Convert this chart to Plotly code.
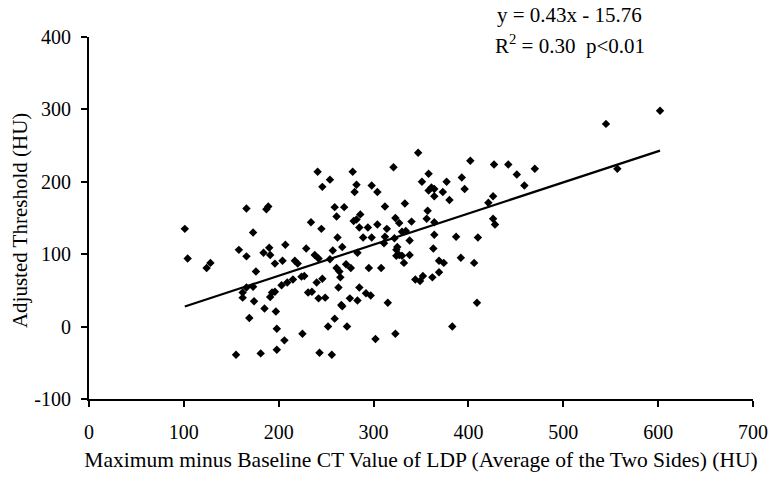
import plotly.graph_objects as go

# Datos (x: max - basal CT LDP, y: umbral ajustado), en HU
x_vals = [101, 104, 128, 124, 155, 158, 162, 166, 162, 166, 166, 169, 173, 173, 174, 176,
          181, 184, 185, 187, 189, 190, 191, 191, 193, 196, 196, 197, 198, 198,
          204, 206, 207, 203, 209, 215, 217, 220, 224, 227, 225, 229, 231, 235, 234,
          238, 242, 241, 240, 242, 243, 245, 246, 246, 249,
          252, 254, 254, 256, 257, 259, 259, 261, 261, 262, 263, 264, 265, 266, 267,
          267, 269, 271, 272, 275, 276, 278, 279, 282, 280, 282, 283, 283, 285, 285,
          286, 289, 292, 294, 295, 297, 298, 298,
          302, 304, 304, 308, 312, 311, 312, 314, 315, 321, 323, 323, 324, 324, 327,
          330, 327, 330, 332, 333, 338, 338, 340, 344, 347, 349, 351, 352, 334, 322, 325,
          357, 356, 358, 358, 364, 361, 364, 364, 364, 363, 362, 369, 374, 369, 373,
          377, 380, 383, 387, 393, 396, 392,
          402, 406, 409, 410, 421, 426, 426, 428, 427, 442, 451, 459, 470, 545, 557, 602]
y_vals = [135, 94, 88, 81, -39, 106, 47, 54, 40, 163, 97, 12, 55, 130, 35, 76,
          -37, 102, 25, 162, 166, 109, 99, 41, 47, 87, 48, 21, -3, -32,
          91, -19, 113, 57, 61, 65, 91, 87, 69, 70, -10, 108, 47, 48, 144,
          99, 94, 214, 61, 39, -36, 135, 193, 66, 40,
          0, 93, 203, -39, 105, 11, 165, 152, 81, 123, 54, 76, 68, 30, 28,
          110, 165, 86, 0, 39, 81, 214, 146, 148, 186, 196, 102, 36, 54, 137,
          155, 123, 46, 137, 81, 43, 195, 123,
          -17, 186, 141, 81, 166, 115, 124, 135, 33, 220, -10, 150, 106, 98, 99,
          98, 143, 131, 88, 170, 99, 119, 145, 65, 240, 63, 200, 70, 132, 122, 110,
          160, 149, 188, 211, 190, 192, 180, 144, 127, 108, 68, 91, 88, 75, 186,
          200, 175, 0, 124, 206, 190, 95,
          229, 88, 33, 123, 171, 180, 149, 141, 224, 224, 210, 195, 218, 280, 218, 298]

# Recta de regresion indicada en el grafico
pendiente = 0.43
intercepto = -15.76
x_linea = [min(x_vals), max(x_vals)]
y_linea = [pendiente * v + intercepto for v in x_linea]

x_ticks = [0, 100, 200, 300, 400, 500, 600, 700]
y_ticks = [-100, 0, 100, 200, 300, 400]
y_ticktext = ['-100', '0', '100', '200', '300', '400']

fuente = 'Liberation Serif, Times New Roman, serif'

fig = go.Figure()

# Puntos
fig.add_trace(go.Scatter(
    x=x_vals,
    y=y_vals,
    mode='markers',
    marker=dict(symbol='diamond', size=6.5, color='black'),
    showlegend=False
))

# Recta de ajuste
fig.add_trace(go.Scatter(
    x=x_linea,
    y=y_linea,
    mode='lines',
    line=dict(color='black', width=2.2),
    showlegend=False
))

fig.update_layout(
    width=773,
    height=477,
    margin=dict(l=89, r=20, t=37, b=78),
    plot_bgcolor='white',
    paper_bgcolor='white',
    font=dict(family=fuente, color='black', size=20),
    annotations=[
        dict(text='y = 0.43x - 15.76', xref='paper', yref='paper',
             x=0.724, y=1.061, showarrow=False, xanchor='center', yanchor='middle',
             font=dict(family=fuente, size=21, color='black')),
        dict(text='R<sup>2</sup> = 0.30  p&lt;0.01', xref='paper', yref='paper',
             x=0.724, y=0.978, showarrow=False, xanchor='center', yanchor='middle',
             font=dict(family=fuente, size=21, color='black')),
        # Titulo del eje Y
        dict(text='Adjusted Threshold (HU)', xref='paper', yref='paper',
             x=-0.104, y=0.494, showarrow=False, textangle=-90,
             xanchor='center', yanchor='middle',
             font=dict(family=fuente, size=21, color='black')),
    ]
)

fig.update_xaxes(
    range=[0, 700],
    tickvals=x_ticks,
    ticks='outside', ticklen=6, tickwidth=2, tickcolor='black',
    showline=True, linecolor='black', linewidth=2,
    showgrid=False, zeroline=False, automargin=False,
    ticklabelstandoff=8,
    tickfont=dict(size=20, color='black'),
    title=dict(text='Maximum minus Baseline CT Value of LDP (Average of the Two Sides) (HU)',
               font=dict(size=21.5, color='black'), standoff=10)
)
fig.update_yaxes(
    range=[-100, 400],
    tickvals=y_ticks,
    ticktext=y_ticktext,
    ticks='outside', ticklen=6, tickwidth=2, tickcolor='black',
    showline=True, linecolor='black', linewidth=2,
    showgrid=False, zeroline=False, automargin=False,
    ticklabelstandoff=6,
    tickfont=dict(size=20, color='black')
)

# Quitar el margen del body para que la figura ocupe toda la ventana
fig.write_html("out.html", config={'displayModeBar': False},
               post_script="document.body.style.margin='0px';")
